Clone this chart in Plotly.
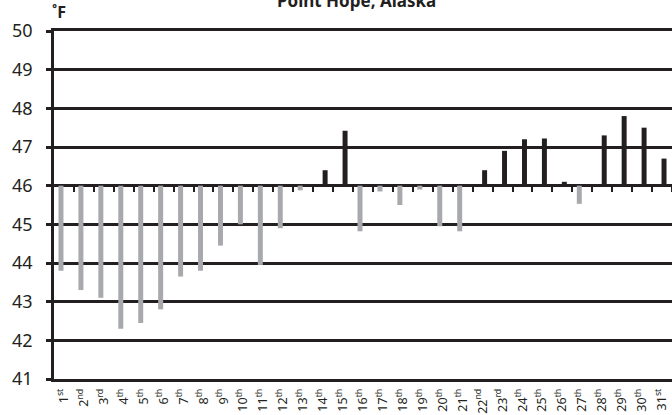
import plotly.graph_objects as go

# ---- data ----
days = list(range(1, 32))
day_labels = ["1<sup>st</sup>", "2<sup>nd</sup>", "3<sup>rd</sup>"] + \
    [f"{d}<sup>th</sup>" for d in range(4, 21)] + \
    ["21<sup>th</sup>", "22<sup>nd</sup>", "23<sup>rd</sup>"] + \
    [f"{d}<sup>th</sup>" for d in range(24, 31)] + ["31<sup>st</sup>"]
temps = [43.8, 43.3, 43.1, 42.3, 42.45, 42.8, 43.65, 43.8, 44.45, 45.0,
         43.95, 44.9, 45.88, 46.4, 47.42, 44.82, 45.85, 45.5, 45.9, 44.95,
         44.82, 46.4, 46.9, 47.2, 47.22, 46.1, 45.53, 47.3, 47.8, 47.5, 46.7]
baseline = 46
y_ticks = list(range(41, 51))

below_x = [d for d, t in zip(days, temps) if t < baseline]
below_len = [t - baseline for t in temps if t < baseline]
above_x = [d for d, t in zip(days, temps) if t >= baseline]
above_len = [t - baseline for t in temps if t >= baseline]

DARK = "#231f20"
GRAY = "#a7a9ac"
FONT = "Noto Sans"

fig = go.Figure()
fig.add_trace(go.Bar(x=below_x, y=below_len, base=baseline, width=0.25, offset=-0.275,
                     marker=dict(color=GRAY, line=dict(width=0)), showlegend=False))
fig.add_trace(go.Bar(x=above_x, y=above_len, base=baseline, width=0.25, offset=-0.025,
                     marker=dict(color=DARK, line=dict(width=0)), showlegend=False))
# invisible trace to host the tick axis at the baseline
fig.add_trace(go.Scatter(x=[days[0]], y=[baseline], xaxis="x2", mode="markers",
                         marker=dict(opacity=0), hoverinfo="skip", showlegend=False))

fig.update_layout(
    width=672, height=415,
    margin=dict(l=54, r=0, t=31, b=36, autoexpand=False),
    paper_bgcolor="white", plot_bgcolor="white",
    barmode="overlay",
    font=dict(family=FONT, color=DARK),
    xaxis=dict(range=[0.5, 31.5], tickmode="array", tickvals=days, ticktext=day_labels,
               tickangle=-90, tickfont=dict(size=12.5, color=DARK), ticks="outside",
               ticklen=2, tickcolor="rgba(0,0,0,0)",
               showgrid=False, zeroline=False, showline=True, linewidth=2.5,
               linecolor=DARK, mirror=True, fixedrange=True, automargin=False),
    xaxis2=dict(range=[0.5, 31.5], overlaying="x", anchor="free",
                position=(baseline - y_ticks[0]) / (y_ticks[-1] - y_ticks[0]),
                tickmode="array", tickvals=[d + 0.5 for d in days], ticks="outside",
                ticklen=5, tickwidth=1.5, tickcolor=DARK, showticklabels=False,
                showgrid=False, zeroline=False, showline=False),
    yaxis=dict(range=[y_ticks[0], y_ticks[-1]], tickmode="array", tickvals=y_ticks,
               ticks="outside", ticklen=5, tickwidth=2.5, tickcolor=DARK,
               tickfont=dict(size=18, color=DARK), ticklabelstandoff=10,
               showgrid=True, gridcolor=DARK, gridwidth=2.5, zeroline=False,
               showline=True, linewidth=2.5, linecolor=DARK, automargin=False),
    annotations=[
        dict(text="<b>Point Hope, Alaska</b>", xref="paper", yref="paper",
             x=0.49, y=1, xanchor="center", yanchor="bottom", yshift=17,
             showarrow=False, font=dict(size=17, color=DARK, family=FONT)),
        dict(text="<b>˚F</b>", xref="paper", yref="paper",
             x=-0.007, y=1, xanchor="left", yanchor="bottom", yshift=6,
             showarrow=False, font=dict(size=16, color=DARK, family=FONT)),
    ],
)

fig.write_html("out.html", config={"displayModeBar": False},
               post_script="document.body.style.margin='0';document.body.style.overflow='hidden';")
